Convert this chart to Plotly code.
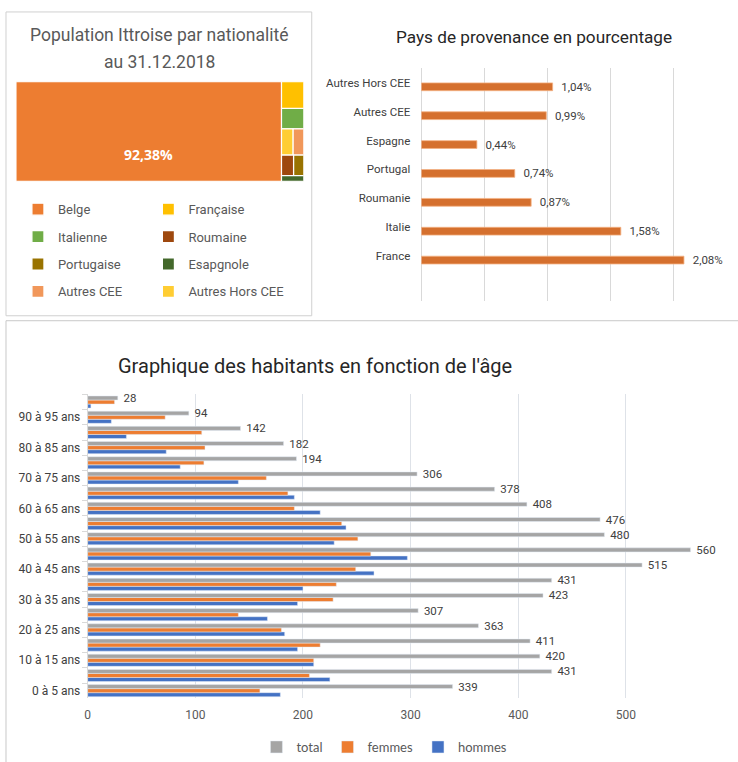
import plotly.graph_objects as go

# ---------------- Data ----------------
# Treemap: population par nationalité (%)
nat_labels = ["Belge", "Française", "Italienne", "Autres Hors CEE", "Autres CEE",
              "Roumaine", "Portugaise", "Esapgnole"]
nat_values = [92.38, 2.08, 1.58, 1.04, 0.99, 0.87, 0.74, 0.44]
nat_colors = ["#ED7D31", "#FFC000", "#70AD47", "#FFCD33", "#F1975A",
              "#9E480E", "#997300", "#43682B"]

# Pays de provenance (%)
pays = ["France", "Italie", "Roumanie", "Portugal", "Espagne", "Autres CEE", "Autres Hors CEE"]
pays_pct = [2.08, 1.58, 0.87, 0.74, 0.44, 0.99, 1.04]

# Habitants par âge
ages = ["0 à 5 ans", "5 à 10 ans", "10 à 15 ans", "15 à 20 ans", "20 à 25 ans",
        "25 à 30 ans", "30 à 35 ans", "35 à 40 ans", "40 à 45 ans", "45 à 50 ans",
        "50 à 55 ans", "55 à 60 ans", "60 à 65 ans", "65 à 70 ans", "70 à 75 ans",
        "75 à 80 ans", "80 à 85 ans", "85 à 90 ans", "90 à 95 ans", "95 à 100 ans"]
total = [339, 431, 420, 411, 363, 307, 423, 431, 515, 560, 480, 476, 408, 378, 306,
         194, 182, 142, 94, 28]
femmes = [160, 206, 210, 216, 180, 140, 228, 231, 249, 263, 251, 236, 192, 186, 166,
          108, 109, 106, 72, 25]
hommes = [179, 225, 210, 195, 183, 167, 195, 200, 266, 297, 229, 240, 216, 192, 140,
          86, 73, 36, 22, 3]
age_ticktext = [a if i % 2 == 0 else "" for i, a in enumerate(ages)]

# ---------------- Helpers ----------------
W, H = 738, 762
NARROW = "Roboto, sans-serif"


def px_x(p):
    return p / W


def px_y(p):
    return 1 - p / H


def fr(v):
    return f"{v:.2f}".replace(".", ",") + "%"


fig = go.Figure()

# ---------------- Treemap (slice & dice from values) ----------------
rows = [[1], [2], [3, 4], [5, 6], [7]]
S = sum(nat_values[1:])
tiles = {0: (0.0, nat_values[0], 0.0, S)}
ytop = S
for row in rows:
    rh = sum(nat_values[i] for i in row)
    xcur = nat_values[0]
    for i in row:
        w = nat_values[i] / rh * S
        tiles[i] = (xcur, w, ytop - rh, rh)
        xcur += w
    ytop -= rh

left_col = [0, 2, 6, 4]
right_col = [1, 5, 7, 3]
for legname, col in (("legend2", left_col), ("legend3", right_col)):
    for i in col:
        x0, w, y0, h = tiles[i]
        fig.add_trace(go.Bar(
            x=[x0], y=[h], base=[y0], width=[w], offset=0, orientation="v",
            marker=dict(color=nat_colors[i], line=dict(color="white", width=1.2)),
            name=nat_labels[i], legend=legname, legendgroup=nat_labels[i],
            xaxis="x", yaxis="y", hoverinfo="skip"))

# ---------------- Pays de provenance ----------------
fig.add_trace(go.Bar(
    y=pays, x=pays_pct, orientation="h", width=0.27, offset=-0.275,
    marker=dict(color="#D5702E", line=dict(color="#F4B183", width=0.8)),
    text=["  " + fr(v) for v in pays_pct], textposition="outside",
    constraintext="none", cliponaxis=False,
    textfont=dict(family=NARROW, size=11.5, color="#404040"),
    showlegend=False, xaxis="x2", yaxis="y2", hoverinfo="skip"))

# ---------------- Habitants par âge ----------------
fig.add_trace(go.Bar(y=ages, x=hommes, orientation="h", name="hommes",
                     marker_color="#4472C4", xaxis="x3", yaxis="y3", legend="legend"))
fig.add_trace(go.Bar(y=ages, x=femmes, orientation="h", name="femmes",
                     marker_color="#ED7D31", xaxis="x3", yaxis="y3", legend="legend"))
fig.add_trace(go.Bar(y=ages, x=total, orientation="h", name="total",
                     marker_color="#A5A5A5", xaxis="x3", yaxis="y3", legend="legend",
                     text=["  " + str(v) for v in total], textposition="outside",
                     constraintext="none", cliponaxis=False,
                     textfont=dict(family=NARROW, size=11.5, color="#404040")))

# ---------------- Layout ----------------
leg_common = dict(bgcolor="rgba(0,0,0,0)", itemwidth=30, itemclick=False,
                  itemdoubleclick=False)

fig.update_layout(
    width=W, height=H, autosize=False,
    margin=dict(l=0, r=0, t=0, b=0),
    paper_bgcolor="white", plot_bgcolor="white",
    barmode="group", bargap=0.2, bargroupgap=0,
    font=dict(family=NARROW, color="#404040"),
    xaxis=dict(domain=[px_x(13), px_x(302)], range=[0, nat_values[0] + S],
               visible=False, fixedrange=True),
    yaxis=dict(domain=[px_y(182), px_y(82)], range=[0, S], visible=False,
               fixedrange=True),
    xaxis2=dict(domain=[px_x(420), px_x(737)], range=[0, 2.5], dtick=0.5,
                showticklabels=False, showgrid=True, gridcolor="#D9D9D9",
                zeroline=True, zerolinecolor="#D9D9D9", zerolinewidth=1,
                anchor="y2", fixedrange=True),
    yaxis2=dict(domain=[px_y(302), px_y(68)], type="category",
                categoryorder="array", categoryarray=pays,
                range=[-1.55, 6.52], showgrid=False, ticks="",
                ticklabelstandoff=10, anchor="x2", fixedrange=True,
                tickfont=dict(family=NARROW, size=11.5, color="#404040")),
    xaxis3=dict(domain=[px_x(85), px_x(733.6)], range=[0, 600], dtick=100,
                showgrid=True, gridcolor="#DEE2E8", zeroline=False, showline=False,
                ticks="", ticklabelstandoff=8, anchor="y3", fixedrange=True,
                tickfont=dict(family=NARROW, size=12, color="#595959")),
    yaxis3=dict(domain=[px_y(701), px_y(396)], type="category",
                categoryorder="array", categoryarray=ages,
                range=[-0.5, 19.5], tickmode="array", tickvals=ages,
                ticktext=age_ticktext, ticks="outside", tickson="boundaries",
                ticklen=5, tickcolor="#D9D9D9", showline=True, linecolor="#D9D9D9",
                showgrid=False, ticklabelstandoff=4, anchor="x3", fixedrange=True,
                tickfont=dict(family=NARROW, size=12, color="#404040")),
    legend=dict(orientation="h", x=px_x(383), xanchor="center",
                y=px_y(750), yanchor="middle", traceorder="reversed",
                font=dict(family="Lato, Open Sans, sans-serif", size=13, color="#595959"),
                **leg_common),
    legend2=dict(orientation="v", x=px_x(15), xanchor="left", y=px_y(195),
                 yanchor="top", traceorder="grouped", tracegroupgap=7.5,
                 font=dict(family=NARROW, size=13, color="#595959"), **leg_common),
    legend3=dict(orientation="v", x=px_x(146), xanchor="left", y=px_y(195),
                 yanchor="top", traceorder="grouped", tracegroupgap=7.5,
                 font=dict(family=NARROW, size=13, color="#595959"), **leg_common),
    annotations=[
        dict(text="Population Ittroise par nationalité", x=px_x(157), y=px_y(35),
             xref="paper", yref="paper", showarrow=False, xanchor="center",
             yanchor="middle",
             font=dict(family=NARROW, size=17.5, color="#595959")),
        dict(text="au 31.12.2018", x=px_x(157), y=px_y(62),
             xref="paper", yref="paper", showarrow=False, xanchor="center",
             yanchor="middle",
             font=dict(family=NARROW, size=17.5, color="#595959")),
        dict(text=fr(nat_values[0]), x=nat_values[0] / 2, y=S * 0.27,
             xref="x", yref="y", showarrow=False, xanchor="center", yanchor="middle",
             font=dict(family="Open Sans, sans-serif", size=14, color="white",
                       weight="bold")),
        dict(text="Pays de provenance en pourcentage", x=px_x(533), y=px_y(37),
             xref="paper", yref="paper", showarrow=False, xanchor="center",
             yanchor="middle",
             font=dict(family=NARROW, size=17.2, color="#262626")),
        dict(text="Graphique des habitants en fonction de l'âge", x=px_x(313),
             y=px_y(367), xref="paper", yref="paper", showarrow=False,
             xanchor="center", yanchor="middle",
             font=dict(family=NARROW, size=20, color="#262626")),
    ],
    shapes=[
        dict(type="rect", xref="paper", yref="paper", x0=px_x(3), x1=px_x(310),
             y0=px_y(317), y1=px_y(12), line=dict(color="#D0D0D0", width=1),
             layer="below"),
        dict(type="rect", xref="paper", yref="paper", x0=px_x(3), x1=1.05,
             y0=-0.05, y1=px_y(322), line=dict(color="#C8C8C8", width=1),
             layer="below"),
    ],
)

fig.write_html("out.html", config={"displayModeBar": False},
               post_script="document.body.style.margin='0';")
